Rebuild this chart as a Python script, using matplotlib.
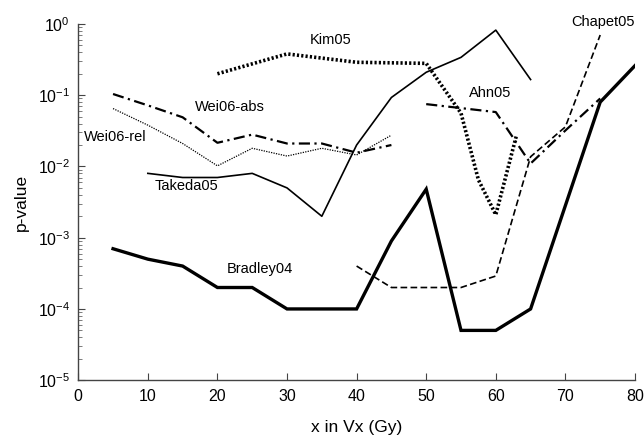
import matplotlib
matplotlib.use("Agg")
import matplotlib.pyplot as plt
from matplotlib.ticker import LogLocator, NullFormatter

plt.rcParams['font.family'] = ['Liberation Sans', 'DejaVu Sans']

# values (x in Gy, p-value)
bradley_x = [5, 10, 15, 20, 25, 30, 35, 40, 45, 50, 55, 60, 65, 75, 80]
bradley_p = [7e-4, 5e-4, 4e-4, 2e-4, 2e-4, 1e-4, 1e-4, 1e-4, 9e-4, 4.8e-3,
             5e-5, 5e-5, 1e-4, 8e-2, 2.6e-1]

takeda_x = [10, 15, 20, 25, 30, 35, 40, 45, 50, 55, 60, 65]
takeda_p = [8e-3, 7e-3, 7e-3, 8e-3, 5e-3, 2e-3, 2e-2, 9.3e-2, 2.1e-1, 3.4e-1, 8.2e-1, 1.66e-1]

kim_x = [20, 30, 40, 50, 55, 57.5, 60, 63]
kim_p = [0.2, 0.38, 0.29, 0.28, 0.056, 0.0065, 0.0021, 0.028]

ahn_x = [50, 60, 65, 70, 75]
ahn_p = [0.075, 0.058, 0.011, 0.032, 0.09]

chapet_x = [40, 45, 50, 55, 60, 65, 70, 75]
chapet_p = [4e-4, 2e-4, 2e-4, 2e-4, 2.9e-4, 1.37e-2, 3.6e-2, 0.7]

wei_abs_x = [5, 10, 15, 20, 25, 30, 35, 40, 45]
wei_abs_p = [0.104, 0.072, 0.049, 0.0215, 0.028, 0.021, 0.021, 0.0156, 0.02]

wei_rel_x = [5, 10, 15, 20, 25, 30, 35, 40, 45]
wei_rel_p = [0.065, 0.038, 0.021, 0.0102, 0.018, 0.014, 0.018, 0.0145, 0.0275]

labels = ["Kim05", "Wei06-abs", "Wei06-rel", "Takeda05", "Bradley04", "Ahn05", "Chapet05"]
label_x = [36.2, 21.8, 5.3, 15.6, 26.1, 59.2, 75.4]
label_p = [0.59, 0.068, 0.026, 0.0053, 3.6e-4, 0.107, 1.05]


def main():
    fig = plt.figure(figsize=(6.44, 4.36), dpi=100)
    ax = fig.add_axes([0.1215, 0.128, 0.8645, 0.817])

    ax.plot(bradley_x, bradley_p, color='black', lw=2.4, solid_joinstyle='miter')
    ax.plot(takeda_x, takeda_p, color='black', lw=1.2)
    ax.plot(kim_x, kim_p, color='black', lw=2.6, linestyle=(0, (0.6, 0.6)), dash_capstyle='butt')
    ax.plot(ahn_x, ahn_p, color='black', lw=1.6, linestyle=(0, (5, 2, 1, 2)))
    ax.plot(chapet_x, chapet_p, color='black', lw=1.2, linestyle=(0, (4, 2)))
    ax.plot(wei_abs_x, wei_abs_p, color='black', lw=1.6, linestyle=(0, (5, 2, 1, 2)))
    ax.plot(wei_rel_x, wei_rel_p, color='black', lw=0.9, linestyle=(0, (1, 1)))

    for txt, lx, lp in zip(labels, label_x, label_p):
        ax.text(lx, lp, txt, fontsize=10.5, ha='center', va='center', clip_on=False)

    ax.set_yscale('log')
    ax.set_xlim(0, 80)
    ax.set_ylim(1e-5, 1)
    ax.set_xticks(range(0, 81, 10))
    ax.yaxis.set_major_locator(LogLocator(base=10, numticks=10))
    ax.yaxis.set_minor_locator(LogLocator(base=10, subs=range(2, 10), numticks=20))
    ax.yaxis.set_minor_formatter(NullFormatter())

    for side in ('top', 'right'):
        ax.spines[side].set_visible(False)
    for side in ('left', 'bottom'):
        ax.spines[side].set_color('#444444')
        ax.spines[side].set_linewidth(1.0)

    ax.tick_params(which='major', direction='in', length=5, color='#444444', labelsize=11.5, pad=6)
    ax.tick_params(which='minor', direction='in', length=3, color='#666666')

    ax.set_xlabel('x in Vx (Gy)', fontsize=12.5, labelpad=12)
    ax.set_ylabel('p-value', fontsize=12.5, labelpad=6)

    plt.savefig('out.png', dpi=100)


if __name__ == "__main__":
    main()
